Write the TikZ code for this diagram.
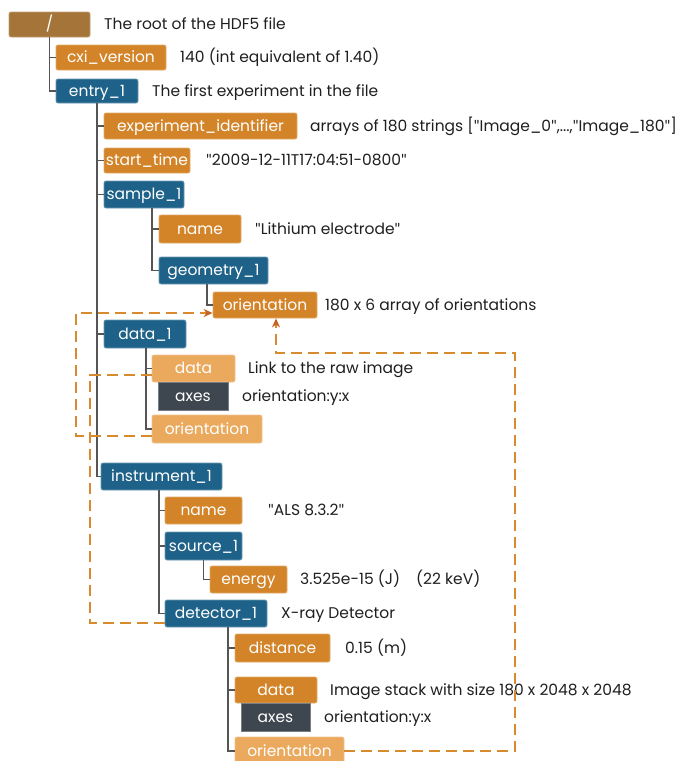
\documentclass[tikz,border=0pt]{standalone}
\usepackage{fontspec}
\setmainfont{Poppins}
\newfontfamily\qfont{Lato}
\newcommand\dq{{\qfont"}}
\usetikzlibrary{arrows.meta,calc}
\definecolor{cbrown}{HTML}{A47439}
\definecolor{corange}{HTML}{D38428}
\definecolor{cblue}{HTML}{1E6289}
\definecolor{clight}{HTML}{EAA95C}
\definecolor{cdark}{HTML}{3E474F}
\definecolor{ctree}{HTML}{555555}
\definecolor{clink}{HTML}{D98A2E}
\definecolor{carrow}{HTML}{C8601E}
\begin{document}
\begin{tikzpicture}[x=1pt,y=-1pt,
  box/.style={rounded corners=2pt, line width=0.8pt, text=white, inner sep=0pt,
    font=\fontsize{15.5}{16}\selectfont, anchor=center, text height=10.5pt, text depth=0pt},
  rootbox/.style={box, fill=cbrown, draw=cbrown!70!white},
  dset/.style={box, fill=corange, draw=corange!70!white},
  grp/.style={box, fill=cblue, draw=cblue!65!white},
  lset/.style={box, fill=clight, draw=clight!70!white},
  attr/.style={box, fill=cdark, draw=cdark!70!white, rounded corners=0pt},
  desc/.style={anchor=west, inner sep=0pt, text=black!88, font=\fontsize{15.5}{16}\selectfont,
    text height=10.5pt, text depth=0pt},
  tree/.style={draw=ctree, line width=1.2pt},
  link/.style={draw=clink, line width=1.8pt, dash pattern=on 11pt off 6pt},
  linkarrow/.style={link, -{Stealth[length=9pt,width=8pt,color=carrow]}}
]
\useasboundingbox (0,0) rectangle (683,761);

% nodes
\node[rootbox, minimum width=81pt, minimum height=25pt] (root) at (49.5,24.5) {/};
\node[desc] (droot) at (104,24.5) {The root of the HDF5 file};
\node[dset, minimum width=110pt, minimum height=25pt] (cxi) at (111,57.5) {cxi\_version};
\node[desc] (dcxi) at (180,57.5) {140 (int equivalent of 1.40)};
\node[grp, minimum width=82pt, minimum height=24pt] (entry) at (97,91) {entry\_1};
\node[desc] (dentry) at (152,91) {The first experiment in the file};
\node[dset, minimum width=193pt, minimum height=26pt] (expid) at (200.5,126) {experiment\_identifier};
\node[desc] (dexpid) at (310,126) {arrays of 180 strings [\dq Image\_0\dq,...,\dq Image\_180\dq]};
\node[dset, minimum width=86pt, minimum height=25pt] (start) at (147,160.5) {start\_time};
\node[desc] (dstart) at (206,160.5) {\dq 2009-12-11T17:04:51-0800\dq};
\node[grp, minimum width=80pt, minimum height=27pt] (sample) at (144,194.5) {sample\_1};
\node[dset, minimum width=82pt, minimum height=28pt] (name1) at (200,229) {name};
\node[desc] (dname1) at (255,229) {\dq Lithium electrode\dq};
\node[grp, minimum width=109pt, minimum height=27pt] (geom) at (213.5,270.5) {geometry\_1};
\node[dset, minimum width=104pt, minimum height=26pt] (orient1) at (265,305) {orientation};
\node[desc] (dorient1) at (325,305) {180 x 6 array of orientations};
\node[grp, minimum width=82pt, minimum height=28pt] (data1) at (145,334) {data\_1};
\node[lset, minimum width=83pt, minimum height=27pt] (datal) at (193.5,368.5) {data};
\node[desc] (ddatal) at (248,368.5) {Link to the raw image};
\node[attr, minimum width=70pt, minimum height=28pt] (axes1) at (193,396) {axes};
\node[desc] (daxes1) at (242,396) {orientation:y:x};
\node[lset, minimum width=110pt, minimum height=28pt] (orientl1) at (207,429) {orientation};
\node[grp, minimum width=121pt, minimum height=27pt] (instr) at (161.5,476.5) {instrument\_1};
\node[dset, minimum width=77pt, minimum height=27pt] (name2) at (203.5,510.5) {name};
\node[desc] (dname2) at (268,510.5) {\dq ALS 8.3.2\dq};
\node[grp, minimum width=77pt, minimum height=28pt] (source) at (203.5,546) {source\_1};
\node[dset, minimum width=77pt, minimum height=27pt] (energy) at (248.5,579.5) {energy};
\node[desc] (denergy) at (300,579.5) {3.525e-15 (J)};
\node[desc] (dkev) at (416,579.5) {(22 keV)};
\node[grp, minimum width=102pt, minimum height=27pt] (detector) at (216,613.5) {detector\_1};
\node[desc] (ddetector) at (281,613.5) {X-ray Detector};
\node[dset, minimum width=95pt, minimum height=28pt] (distance) at (282.5,648) {distance};
\node[desc] (ddistance) at (345,648) {0.15 (m)};
\node[dset, minimum width=82pt, minimum height=26pt] (data2) at (276,690) {data};
\node[desc] (ddata2) at (330,690) {Image stack with size 180 x 2048 x 2048};
\node[attr, minimum width=69pt, minimum height=28pt] (axes2) at (275.5,717) {axes};
\node[desc] (daxes2) at (324,717) {orientation:y:x};
\node[lset, minimum width=109pt, minimum height=28pt] (orientl2) at (289.5,751) {orientation};

% tree connectors
\draw[tree] (root.south) |- (cxi.west);
\draw[tree] (root.south) |- (entry.west);
\foreach \c in {expid,start,sample,data1,instr}
  \draw[tree] (entry.south) |- (\c.west);
\foreach \c in {name1,geom}
  \draw[tree] ([xshift=8pt]sample.south) |- (\c.west);
\draw[tree] ([xshift=-6.5pt]geom.south) |- (orient1.west);
\foreach \c in {datal,orientl1}
  \draw[tree] ([xshift=1pt]data1.south) |- (\c.west);
\foreach \c in {name2,source,detector}
  \draw[tree] ([xshift=-2.5pt]instr.south) |- (\c.west);
\draw[tree] (source.south) |- (energy.west);
\foreach \c in {distance,data2,orientl2}
  \draw[tree] ([xshift=12pt]detector.south) |- (\c.west);

% links
\draw[linkarrow] ([yshift=-7pt]orientl1.west) -| (76,313) -- ([yshift=-8pt]orient1.west);
\draw[link] ([yshift=-6.5pt]datal.west) -| (90,623) -- ([yshift=-9.5pt]detector.west);
\draw[linkarrow] (orientl2.east) -| (515,353) -| ([xshift=11pt]orient1.south);
\end{tikzpicture}
\end{document}
